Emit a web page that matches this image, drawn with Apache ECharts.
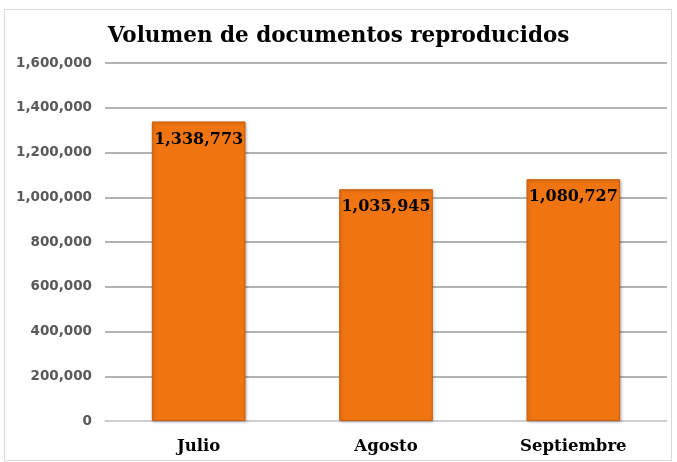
<!DOCTYPE html>
<html><head><meta charset="utf-8">
<script src="https://cdn.jsdelivr.net/npm/echarts@6/dist/echarts.min.js"></script>
<style>html,body{margin:0;padding:0;background:#fff}
#frame{position:absolute;left:4px;top:9px;width:668px;height:452px;border:1px solid #d9d9d9;box-sizing:border-box}
#c{position:absolute;left:0;top:0;width:677px;height:462px}</style>
</head><body><div id="frame"></div><div id="c"></div>
<script>
const categories = ['Julio', 'Agosto', 'Septiembre'];
const values = [1338773, 1035945, 1080727];
const yTicks = [0, 200000, 400000, 600000, 800000, 1000000, 1200000, 1400000, 1600000];
const titleText = 'Volumen de documentos reproducidos';

const fmt = v => v.toLocaleString('en-US');
const chart = echarts.init(document.getElementById('c'), null, {renderer: 'canvas'});
chart.setOption({
  animation: false,
  title: {text: titleText, left: 'center', top: 20,
    textStyle: {fontFamily: 'DejaVu Serif', fontWeight: 'bold', fontSize: 21.5, color: '#000'}},
  grid: {left: 105, right: 10, top: 63, bottom: 41},
  xAxis: {type: 'category', data: categories,
    axisLine: {lineStyle: {color: '#d9d9d9', width: 1.5}}, axisTick: {show: false},
    axisLabel: {margin: 17, fontFamily: 'DejaVu Serif', fontWeight: 'bold', fontSize: 16.5, color: '#000'}},
  yAxis: {type: 'value', min: yTicks[0], max: yTicks[yTicks.length - 1], interval: 200000,
    axisLine: {show: false}, axisTick: {show: false},
    splitLine: {lineStyle: {color: '#9a9a9a', width: 1.5}},
    axisLabel: {margin: 13, formatter: v => fmt(v), fontFamily: 'DejaVu Sans', fontWeight: 'bold', fontSize: 13.5, color: '#595959'}},
  series: [{type: 'bar', data: values, barWidth: '50%',
    itemStyle: {color: '#F07511', borderColor: '#c85e0c', borderWidth: 1,
      shadowColor: 'rgba(0,0,0,0.25)', shadowBlur: 3, shadowOffsetX: 1, shadowOffsetY: 1},
    label: {show: true, position: 'insideTop', offset: [0, 5], formatter: p => fmt(p.value),
      fontFamily: 'DejaVu Serif', fontWeight: 'bold', fontSize: 16, color: '#000'}}]
});
</script></body></html>
